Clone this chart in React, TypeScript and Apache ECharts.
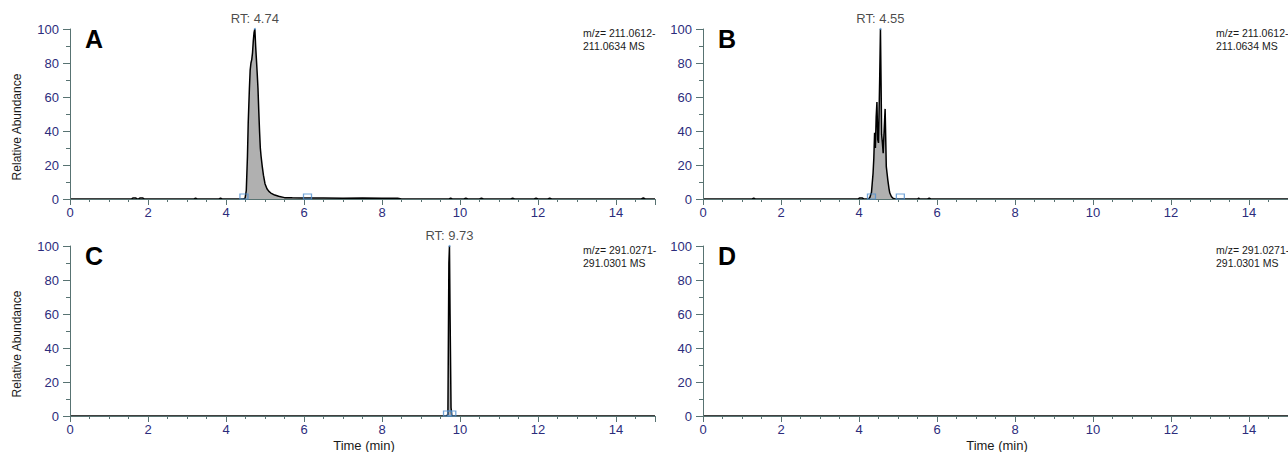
import React, { useEffect, useRef } from "react";
import * as echarts from "echarts";

// ---- data ----
const panelLetters = ["A", "B", "C", "D"];
const mzLines = [
  ["m/z= 211.0612-", "211.0634 MS"],
  ["m/z= 211.0612-", "211.0634 MS"],
  ["m/z= 291.0271-", "291.0301 MS"],
  ["m/z= 291.0271-", "291.0301 MS"],
];
const rtLabels: (number | null)[] = [4.74, 4.55, 9.73, null];

const traceA: [number, number][] = [
  [0, 0], [1.58, 0], [1.62, 0.6], [1.68, 0.6], [1.72, 0], [1.76, 0], [1.8, 0.6], [1.86, 0.6], [1.9, 0],
  [3.18, 0], [3.22, 0.5], [3.26, 0], [3.82, 0], [3.86, 0.5], [3.9, 0],
  [4.45, 0], [4.49, 0.5], [4.52, 5], [4.55, 25], [4.57, 45], [4.6, 65], [4.62, 76], [4.64, 80],
  [4.66, 82], [4.68, 86], [4.7, 93], [4.72, 98], [4.74, 100], [4.76, 90], [4.78, 82], [4.8, 74],
  [4.82, 65], [4.84, 52], [4.86, 40], [4.88, 30], [4.9, 25], [4.93, 19], [4.96, 14], [5.0, 9],
  [5.05, 6], [5.1, 4.5], [5.15, 3.5], [5.25, 2.3], [5.35, 1.6], [5.5, 0.8], [5.7, 0.7], [6.0, 0.6],
  [6.5, 0.6], [7.0, 0.5], [7.5, 0.6], [8.0, 0.5], [8.4, 0.5], [8.5, 0],
  [9.72, 0], [9.76, 0.5], [9.8, 0], [10.1, 0], [10.15, 0.5], [10.2, 0], [10.5, 0], [10.55, 0.5], [10.6, 0],
  [11.3, 0], [11.35, 0.5], [11.4, 0], [11.9, 0], [11.95, 0.5], [12.0, 0], [12.25, 0], [12.3, 0.5], [12.35, 0],
  [14.65, 0], [14.7, 0.6], [14.75, 0], [15, 0],
];
const traceB: [number, number][] = [
  [0, 0], [1.26, 0], [1.3, 0.5], [1.34, 0], [3.98, 0], [4.02, 0.6], [4.08, 0.6], [4.12, 0],
  [4.25, 0], [4.28, 1], [4.32, 4], [4.36, 15], [4.38, 24], [4.4, 39], [4.42, 30], [4.44, 48],
  [4.46, 57], [4.48, 35], [4.5, 33], [4.53, 70], [4.55, 100], [4.565, 70], [4.58, 38], [4.6, 33],
  [4.62, 27], [4.64, 38], [4.67, 53], [4.7, 19], [4.72, 15], [4.74, 11], [4.77, 6], [4.79, 3.5],
  [4.83, 1.5], [4.87, 0.5], [4.92, 0], [5.5, 0], [5.53, 0.5], [5.56, 0], [5.76, 0], [5.8, 0.5],
  [5.84, 0], [15, 0],
];
const traceC: [number, number][] = [
  [0, 0], [9.66, 0], [9.69, 1], [9.715, 90], [9.73, 100], [9.745, 60], [9.77, 5], [9.79, 0], [15, 0],
];
const traceD: [number, number][] = [[0, 0], [15, 0]];
const traces = [traceA, traceB, traceC, traceD];

const markersA = [4.46, 6.09];
const markersB = [4.32, 5.06];
const markersC = [9.68, 9.79];
const markersD: number[] = [];
const markers = [markersA, markersB, markersC, markersD];

const xTicks = { min: 0, max: 15, interval: 2 };
const yTicks = { min: 0, max: 100, interval: 20 };

// ---- styles ----
const FONT = "'Liberation Sans', Arial, Helvetica, sans-serif";
const AXIS_COLOR = "#587372";
const LABEL_COLOR = "#2c2c7c";
const MARK_COLOR = "#4f8fd0";

const grids = [
  { left: 70, top: 29, width: 585, height: 170 },
  { left: 703, top: 29, width: 585, height: 170 },
  { left: 70, top: 246, width: 585, height: 170 },
  { left: 703, top: 246, width: 585, height: 170 },
];

export default function App() {
  const ref = useRef<HTMLDivElement>(null);
  useEffect(() => {
    if (!ref.current) return;
    const chart = echarts.init(ref.current, undefined, { renderer: "svg" });

    const xAxis = grids.map((_, i) => ({
      type: "value",
      gridIndex: i,
      min: xTicks.min,
      max: xTicks.max,
      interval: xTicks.interval,
      z: 5,
      axisLine: { show: true, onZero: false, lineStyle: { color: AXIS_COLOR, width: 1 } },
      axisTick: { show: true, length: 6, lineStyle: { color: AXIS_COLOR } },
      minorTick: { show: true, splitNumber: 4, length: 3, lineStyle: { color: AXIS_COLOR } },
      splitLine: { show: false },
      minorSplitLine: { show: false },
      axisLabel: {
        color: LABEL_COLOR,
        fontSize: 13,
        fontFamily: FONT,
        margin: 7,
        showMaxLabel: false,
      },
    }));
    const yAxis = grids.map((_, i) => ({
      type: "value",
      gridIndex: i,
      min: yTicks.min,
      max: yTicks.max,
      interval: yTicks.interval,
      z: 5,
      axisLine: { show: true, lineStyle: { color: AXIS_COLOR, width: 1 } },
      axisTick: { show: true, length: 7, lineStyle: { color: AXIS_COLOR } },
      minorTick: { show: true, splitNumber: 2, length: 4, lineStyle: { color: AXIS_COLOR } },
      splitLine: { show: false },
      axisLabel: { color: LABEL_COLOR, fontSize: 13, fontFamily: FONT, margin: 11 },
    }));

    const series: any[] = [];
    traces.forEach((tr, i) => {
      series.push({
        type: "line",
        xAxisIndex: i,
        yAxisIndex: i,
        data: tr,
        showSymbol: false,
        symbol: "none",
        z: 2,
        lineStyle: { color: "#000", width: 1.5 },
        areaStyle: { color: "#b0b0b0", opacity: 1 },
        silent: true,
      });
      if (markers[i].length) {
        series.push({
          type: "scatter",
          xAxisIndex: i,
          yAxisIndex: i,
          data: markers[i].map((t) => [t, 0]),
          symbol: "rect",
          symbolSize: [8, 5],
          symbolOffset: [0, -2.5],
          z: 6,
          itemStyle: { color: "rgba(0,0,0,0)", borderColor: MARK_COLOR, borderWidth: 1 },
        });
      }
      const rt = rtLabels[i];
      if (rt !== null) {
        series.push({
          type: "scatter",
          xAxisIndex: i,
          yAxisIndex: i,
          data: [[rt, 100]],
          symbol: "circle",
          symbolSize: 2,
          z: 6,
          itemStyle: { color: MARK_COLOR },
          label: {
            show: true,
            position: "top",
            distance: 3,
            formatter: "RT: " + rt.toFixed(2),
            color: "#1a1a1a",
            fontSize: 13,
            fontFamily: FONT,
          },
        });
      }
    });

    const graphic: any[] = [];
    grids.forEach((g, i) => {
      graphic.push({
        type: "text",
        x: g.left + 15,
        y: g.top - 3,
        style: {
          text: panelLetters[i],
          fontSize: 25,
          fontWeight: "bold",
          fontFamily: FONT,
          fill: "#000",
          align: "left",
          verticalAlign: "top",
        },
      });
      graphic.push({
        type: "text",
        x: g.left + 513,
        y: g.top - 3,
        style: {
          text: mzLines[i].join("\n"),
          fontSize: 10.5,
          lineHeight: 13,
          fontFamily: FONT,
          fill: "#1a1a1a",
          align: "left",
          verticalAlign: "top",
        },
      });
      if (i % 2 === 0) {
        graphic.push({
          type: "text",
          x: 17,
          y: g.top + 98,
          rotation: Math.PI / 2,
          style: {
            text: "Relative Abundance",
            fontSize: 12,
            fontFamily: FONT,
            fill: "#1a1a1a",
            align: "center",
            verticalAlign: "middle",
          },
        });
      }
      if (i >= 2) {
        graphic.push({
          type: "text",
          x: g.left + 294,
          y: 445,
          style: {
            text: "Time (min)",
            fontSize: 13,
            fontFamily: FONT,
            fill: "#1a1a1a",
            align: "center",
            verticalAlign: "middle",
          },
        });
      }
    });

    chart.setOption({
      animation: false,
      backgroundColor: "#ffffff",
      grid: grids.map((g) => ({ ...g, containLabel: false })),
      xAxis,
      yAxis,
      series,
      graphic,
    });
    return () => chart.dispose();
  }, []);

  return (
    <div
      ref={ref}
      style={{ position: "absolute", left: 0, top: 0, width: 1288, height: 452 }}
    />
  );
}
